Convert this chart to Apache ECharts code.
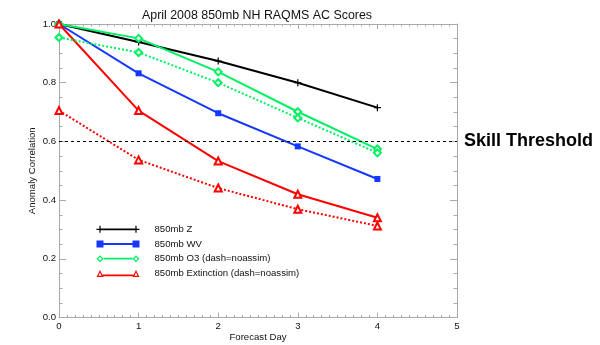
<!DOCTYPE html>
<html>
<head>
<meta charset="utf-8">
<script src="https://cdn.jsdelivr.net/npm/echarts@6/dist/echarts.min.js"></script>
<style>
html,body{margin:0;padding:0;background:#fff;}
#chart{width:600px;height:345px;}
</style>
</head>
<body>
<div id="chart"></div>
<script>
// ---- data ----
const titleText = 'April 2008 850mb NH RAQMS AC Scores';
const days = [0, 1, 2, 3, 4];
const zScores = [1.0, 0.939, 0.874, 0.800, 0.715];
const wvScores = [1.0, 0.832, 0.696, 0.583, 0.472];
const o3Scores = [1.0, 0.951, 0.837, 0.701, 0.574];
const o3NoAssim = [0.954, 0.903, 0.800, 0.680, 0.561];
const extScores = [1.0, 0.705, 0.533, 0.420, 0.340];
const extNoAssim = [0.705, 0.537, 0.441, 0.369, 0.312];
const seriesNames = ['850mb Z', '850mb WV', '850mb O3 (dash=noassim)', '850mb Extinction (dash=noassim)'];
const skillThreshold = 0.6;
const thresholdLabel = 'Skill Threshold';
const xTicks = [0, 1, 2, 3, 4, 5];
const yTicks = [0.0, 0.2, 0.4, 0.6, 0.8, 1.0];

// ---- styling ----
const FONT = '"Liberation Sans", Arial, Helvetica, sans-serif';
const AXIS_GRAY = '#a9a9a9';
const C_BLACK = '#000000';
const C_BLUE = '#1438ff';
const C_GREEN = '#00f064';
const C_RED = '#ff0000';

const plusPath = 'path://M2.9,0h1.2v7h-1.2z M0,2.9h7v1.2h-7z';

const pairs = arr => days.map((d, i) => [d, arr[i]]);

// legend icons (43 x 7 boxes): line with a marker at each end
const icons = {
  z: 'path://M0,2.9h7v1.2h-7z M2.9,0h1.2v7h-1.2z M3.5,2.6h36v1.8h-36z M36,2.9h7v1.2h-7z M38.9,0h1.2v7h-1.2z',
  wv: 'path://M0,0h7v7h-7z M7,2.6h29v1.8h-29z M36,0h7v7h-7z',
  o3: 'path://M3.5,0L7,3.5L3.5,7L0,3.5Z M3.5,1.8L1.8,3.5L3.5,5.2L5.2,3.5Z M7,2.6h29v1.8h-29z M39.5,0L43,3.5L39.5,7L36,3.5Z M39.5,1.8L37.8,3.5L39.5,5.2L41.2,3.5Z',
  ext: 'path://M3.5,0L7,7L0,7Z M3.5,2.6L1.9,5.9L5.1,5.9Z M6,4.6h31v1.8h-31z M39.5,0L43,7L36,7Z M39.5,2.6L37.9,5.9L41.1,5.9Z'
};

const solidLine = (color) => ({ color: color, width: 2, type: 'solid' });
const dotLine = (color) => ({ color: color, width: 2, type: [2, 2] });

const xAxisBase = {
  type: 'value', min: 0, max: 5, interval: 1,
  axisLine: { show: true, onZero: false, lineStyle: { color: AXIS_GRAY, width: 1 } },
  axisTick: { show: true, inside: true, length: 5, lineStyle: { color: AXIS_GRAY } },
  minorTick: { show: true, splitNumber: 10, length: 2.5, lineStyle: { color: AXIS_GRAY } },
  splitLine: { show: false },
};
const yAxisBase = {
  type: 'value', min: 0, max: 1, interval: 0.2,
  axisLine: { show: true, onZero: false, lineStyle: { color: AXIS_GRAY, width: 1 } },
  axisTick: { show: true, inside: true, length: 7, lineStyle: { color: AXIS_GRAY } },
  minorTick: { show: true, splitNumber: 4, length: 3.5, lineStyle: { color: AXIS_GRAY } },
  splitLine: { show: false },
};

const chart = echarts.init(document.getElementById('chart'), null, { renderer: 'canvas' });
chart.setOption({
  backgroundColor: '#ffffff',
  animation: false,
  textStyle: { fontFamily: FONT },
  title: {
    text: titleText, left: 142, top: 9.5, padding: 0,
    textStyle: { fontFamily: FONT, fontSize: 12.4, fontWeight: 'normal', color: '#111' }
  },
  grid: { left: 59, right: 143, top: 24, bottom: 27.5, containLabel: false, outerBoundsMode: 'none' },
  legend: {
    left: 96.5, top: 223.3, padding: 0, orient: 'vertical',
    itemWidth: 43, itemHeight: 7, itemGap: 2.7, symbolKeepAspect: false,
    textStyle: { fontFamily: FONT, fontSize: 9.6, color: '#111', lineHeight: 12, padding: [0, 0, 0, 10] },
    data: [
      { name: seriesNames[0], icon: icons.z, itemStyle: { color: C_BLACK, borderWidth: 0 } },
      { name: seriesNames[1], icon: icons.wv, itemStyle: { color: C_BLUE, borderWidth: 0 } },
      { name: seriesNames[2], icon: icons.o3, itemStyle: { color: C_GREEN, borderWidth: 0 } },
      { name: seriesNames[3], icon: icons.ext, itemStyle: { color: C_RED, borderWidth: 0 } }
    ]
  },
  xAxis: [
    Object.assign({}, xAxisBase, {
      position: 'bottom',
      name: 'Forecast Day', nameLocation: 'middle', nameGap: 15, nameMoveOverlap: false,
      nameTextStyle: { fontFamily: FONT, fontSize: 9.6, color: '#111' },
      axisLabel: { show: true, margin: 4, fontFamily: FONT, fontSize: 9.6, color: '#111',
        formatter: v => xTicks.includes(v) ? String(v) : '' }
    }),
    Object.assign({}, xAxisBase, { position: 'top', axisLabel: { show: false } })
  ],
  yAxis: [
    Object.assign({}, yAxisBase, {
      position: 'left',
      name: 'Anomaly Correlation', nameLocation: 'middle', nameGap: 22, nameMoveOverlap: false,
      nameTextStyle: { fontFamily: FONT, fontSize: 9.6, color: '#111' },
      axisLabel: { show: true, margin: 3, fontFamily: FONT, fontSize: 9.6, color: '#111',
        formatter: v => yTicks.some(t => Math.abs(t - v) < 1e-9) ? v.toFixed(1) : '' }
    }),
    Object.assign({}, yAxisBase, { position: 'right', axisLabel: { show: false } })
  ],
  series: [
    {
      name: seriesNames[0], type: 'line', data: pairs(zScores),
      symbol: plusPath, symbolSize: 7, showAllSymbol: true,
      lineStyle: solidLine(C_BLACK), itemStyle: { color: C_BLACK },
      markLine: {
        silent: true, symbol: ['none', 'none'], animation: false,
        lineStyle: { color: '#000', width: 1, type: [3, 3] },
        label: { show: true, position: 'end', distance: 7, formatter: thresholdLabel,
          fontFamily: FONT, fontSize: 18, fontWeight: 'bold', color: '#000' },
        emphasis: { disabled: true },
        data: [{ yAxis: skillThreshold }]
      }
    },
    {
      name: seriesNames[1], type: 'line', data: pairs(wvScores),
      symbol: 'rect', symbolSize: 6,
      lineStyle: solidLine(C_BLUE), itemStyle: { color: C_BLUE }
    },
    {
      name: seriesNames[2], type: 'line', data: pairs(o3Scores),
      symbol: 'emptyDiamond', symbolSize: 7,
      lineStyle: solidLine(C_GREEN), itemStyle: { color: C_GREEN, borderWidth: 2 }
    },
    {
      name: seriesNames[3], type: 'line', data: pairs(extScores),
      symbol: 'emptyTriangle', symbolSize: 7,
      lineStyle: solidLine(C_RED), itemStyle: { color: C_RED, borderWidth: 1.6 }
    },
    {
      name: seriesNames[2] + ' noassim', type: 'line', data: pairs(o3NoAssim),
      symbol: 'emptyDiamond', symbolSize: 7,
      lineStyle: dotLine(C_GREEN), itemStyle: { color: C_GREEN, borderWidth: 2 }
    },
    {
      name: seriesNames[3] + ' noassim', type: 'line', data: pairs(extNoAssim),
      symbol: 'emptyTriangle', symbolSize: 7,
      lineStyle: dotLine(C_RED), itemStyle: { color: C_RED, borderWidth: 1.6 }
    }
  ]
});
</script>
</body>
</html>
